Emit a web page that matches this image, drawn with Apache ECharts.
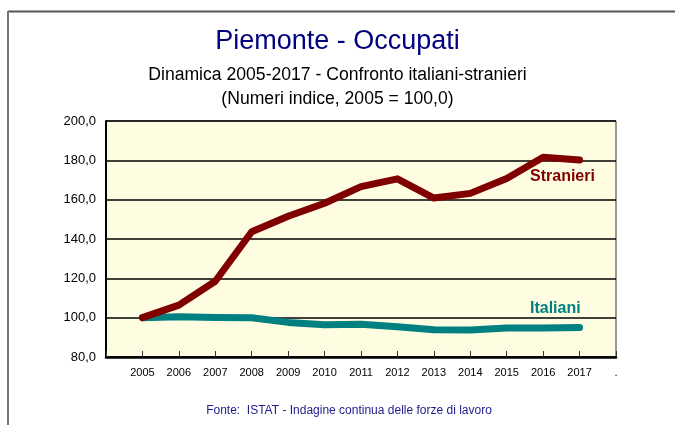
<!DOCTYPE html>
<html>
<head>
<meta charset="utf-8">
<script src="https://cdn.jsdelivr.net/npm/echarts@6/dist/echarts.min.js"></script>
<style>html,body{margin:0;padding:0;background:#fff}#c{width:675px;height:425px}</style>
</head>
<body>
<div id="c"></div>
<script>
var categories = ['', '2005', '2006', '2007', '2008', '2009', '2010', '2011', '2012', '2013', '2014', '2015', '2016', '2017', '.'];
var stranieri = [null, 100.0, 106.4, 118.5, 143.7, 151.6, 158.2, 166.6, 170.6, 160.8, 163.2, 170.8, 181.6, 180.2, null];
var italiani = [null, 100.0, 100.5, 100.1, 100.0, 97.6, 96.4, 96.6, 95.4, 93.8, 93.7, 94.8, 94.8, 95.0, null];
var yTicks = {min: 80, max: 200, interval: 20};

var chart = echarts.init(document.getElementById('c'), null, {renderer: 'canvas'});
var font = 'Arial, "Liberation Sans", sans-serif';
chart.setOption({
  backgroundColor: '#ffffff',
  animation: false,
  title: [
    {text: 'Piemonte - Occupati', left: 'center', top: 23, textStyle: {fontFamily: font, fontSize: 27, fontWeight: 'normal', color: '#000080'}},
    {text: 'Dinamica 2005-2017 - Confronto italiani-stranieri', left: 'center', top: 61, textStyle: {fontFamily: font, fontSize: 17.6, fontWeight: 'normal', color: '#000'}},
    {text: '(Numeri indice, 2005 = 100,0)', left: 'center', top: 85, textStyle: {fontFamily: font, fontSize: 17.6, fontWeight: 'normal', color: '#000'}},
    {text: 'Fonte:  ISTAT - Indagine continua delle forze di lavoro', left: 344, textAlign: 'center', top: 400, textStyle: {fontFamily: font, fontSize: 12, fontWeight: 'normal', color: '#1c1c8c'}}
  ],
  graphic: [
    {type: 'line', shape: {x1: 8, y1: 11.5, x2: 675, y2: 11.5}, style: {stroke: '#555', lineWidth: 2}},
    {type: 'line', shape: {x1: 8, y1: 11, x2: 8, y2: 425}, style: {stroke: '#777', lineWidth: 2}},
    {type: 'text', left: 530, top: 169, style: {text: 'Stranieri', fill: '#800000', font: 'bold 16px ' + font}},
    {type: 'text', left: 530, top: 301, style: {text: 'Italiani', fill: '#008080', font: 'bold 16px ' + font}}
  ],
  grid: {left: 106, right: 59, top: 121, bottom: 68, show: true, backgroundColor: '#FFFDE1', borderColor: '#333', borderWidth: 1},
  xAxis: {
    type: 'category', data: categories, boundaryGap: false,
    axisLine: {lineStyle: {color: '#000', width: 2.5}},
    axisTick: {inside: true, length: 6, lineStyle: {color: '#333', width: 1}},
    axisLabel: {color: '#000', fontFamily: font, fontSize: 11, margin: 10, interval: 0},
    splitLine: {show: false}
  },
  yAxis: {
    type: 'value', min: yTicks.min, max: yTicks.max, interval: yTicks.interval,
    axisLine: {show: true, lineStyle: {color: '#000', width: 2}},
    axisTick: {show: false},
    axisLabel: {color: '#000', fontFamily: font, fontSize: 13, margin: 10, formatter: function (v) { return v.toFixed(1).replace('.', ','); }},
    splitLine: {lineStyle: {color: '#000', width: 1.6}}
  },
  series: [
    {name: 'Stranieri', type: 'line', data: stranieri, symbol: 'none', lineStyle: {color: '#800000', width: 7, join: 'round', cap: 'round'}, z: 3},
    {name: 'Italiani', type: 'line', data: italiani, symbol: 'none', lineStyle: {color: '#008080', width: 7, join: 'round', cap: 'round'}, z: 2}
  ]
});
</script>
</body>
</html>
